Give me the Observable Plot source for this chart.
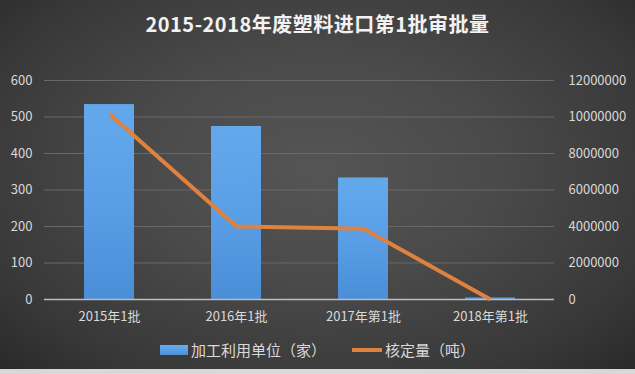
<!DOCTYPE html>
<html>
<head>
<meta charset="utf-8">
<script src="https://cdn.jsdelivr.net/npm/d3@7"></script>
<script src="https://cdn.jsdelivr.net/npm/@observablehq/plot@0.6"></script>
<style>
  html, body { margin: 0; padding: 0; background: #333; }
  #wrap {
    position: relative; width: 635px; height: 374px; overflow: hidden;
    background: radial-gradient(ellipse 70% 75% at 50% 45%, #555555 0%, #4a4a4a 40%, #383838 80%, #2a2a2a 100%);
    font-family: "Noto Sans CJK SC", "Noto Sans", sans-serif;
  }
  #title {
    position: absolute; top: 9px; left: 0; width: 635px; text-align: center;
    color: #f2f2f2; font-size: 20px; font-weight: bold; letter-spacing: 0.5px;
  }
  #chart { position: absolute; top: 50px; left: 0; }
  #legend {
    position: absolute; top: 339px; left: 0; width: 635px; display: flex; justify-content: center;
    align-items: center; color: #d9d9d9; font-size: 15px;
  }
  .sw { display: inline-block; margin-right: 3px; }
  #bottom { position: absolute; left: 0; bottom: 0; width: 635px; height: 5px; background: #d8d8d8; }
</style>
</head>
<body>
<div id="wrap">
  <div id="title">2015-2018年废塑料进口第1批审批量</div>
  <div id="chart"></div>
  <div id="legend">
    <span class="sw" style="width:28px;height:10px;background:linear-gradient(#6aaef0,#4a8fd6);"></span><span>加工利用单位（家）</span>
    <span class="sw" style="width:30px;height:4px;background:#e0823f;margin-left:26px;"></span><span>核定量（吨）</span>
  </div>
  <div id="bottom"></div>
</div>
<script>
const categories = ["2015年1批", "2016年1批", "2017年第1批", "2018年第1批"];
const units = [534, 474, 333, 4];
const tonnage = [10170000, 4000000, 3880000, 0];
const leftTicks = [0, 100, 200, 300, 400, 500, 600];
const rightTicks = [0, 2000000, 4000000, 6000000, 8000000, 10000000, 12000000];

const ratio = 12000000 / 600;
const rows = categories.map((c, i) => ({cat: c, units: units[i], tons: tonnage[i], tonsScaled: tonnage[i] / ratio}));

const svgDefs = () => {
  const ns = "http://www.w3.org/2000/svg";
  const defs = document.createElementNS(ns, "defs");
  defs.innerHTML = `<linearGradient id="barg" x1="0" y1="0" x2="0" y2="1">
      <stop offset="0" stop-color="#64a8ec"/><stop offset="0.5" stop-color="#5a9ee6"/><stop offset="1" stop-color="#4a8ed8"/></linearGradient>`;
  return defs;
};

const chart = Plot.plot({
  width: 635,
  height: 280,
  marginTop: 30,
  marginBottom: 31,
  marginLeft: 44,
  marginRight: 81,
  style: {background: "transparent", color: "#d9d9d9", fontFamily: "'Noto Sans CJK SC', sans-serif", fontSize: "13px"},
  x: {domain: categories, paddingInner: 0.61, paddingOuter: 0.305},
  y: {domain: [0, 600]},
  marks: [
    svgDefs,
    Plot.gridY(leftTicks.filter(d => d > 0), {stroke: "#686868", strokeOpacity: 1, strokeWidth: 1}),
    Plot.barY(rows, {x: "cat", y: "units", fill: "url(#barg)"}),
    Plot.ruleY([0], {stroke: "#bdbdbd", strokeWidth: 1.5}),
    Plot.line(rows, {x: "cat", y: "tonsScaled", stroke: "#e0823f", strokeWidth: 4, strokeLinejoin: "round", strokeLinecap: "butt"}),
    Plot.axisY(leftTicks, {anchor: "left", tickSize: 0, tickPadding: 12, fill: "#d9d9d9", fontSize: 13, label: null}),
    Plot.axisY(rightTicks.map(d => d / ratio), {anchor: "right", tickSize: 0, tickPadding: 14, textAnchor: "start", fill: "#d9d9d9", fontSize: 13, label: null,
      tickFormat: d => String(Math.round(d * ratio))}),
    Plot.axisX({tickSize: 0, tickPadding: 12, fill: "#d9d9d9", fontSize: 13, label: null})
  ]
});
document.getElementById("chart").appendChild(chart);
</script>
</body>
</html>
